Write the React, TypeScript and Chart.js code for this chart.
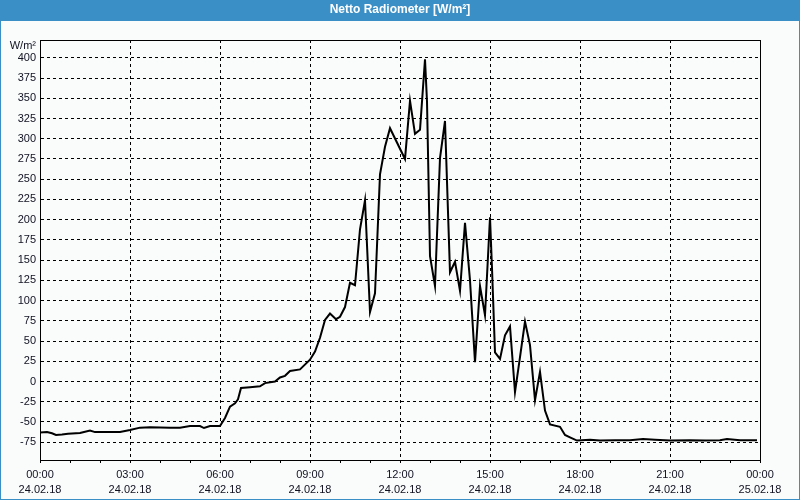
import React, { useEffect, useRef } from "react";
import { Chart, registerables } from "chart.js";

Chart.register(...registerables);

const TITLE = "Netto Radiometer [W/m²]";
const UNIT = "W/m²";

// time of each sample in minutes after 24.02.18 00:00
const sampleMinutes = [
  0, 14, 24, 32, 44, 56, 80, 100, 110, 140, 160, 180, 200, 220, 260, 280, 300, 320, 328, 340,
  360, 370, 380, 390, 396, 402, 420, 440, 450, 470, 480, 490, 500, 520, 540, 550, 560, 570, 580, 592,
  600, 610, 620, 630, 640, 650, 660, 670, 680, 690, 700, 730, 740, 750, 760, 770, 774, 780, 790, 800,
  810, 820, 830, 840, 850, 860, 870, 880, 890, 900, 904, 910, 920, 930, 940, 950, 960, 970, 980, 990,
  1000, 1010, 1020, 1040, 1050, 1060, 1074, 1100, 1120, 1150, 1180, 1206, 1230, 1260, 1300, 1330, 1360, 1374, 1400, 1434,
];

// net radiation in W/m²
const netRadiation = [
  -63, -62.5, -64, -66, -65.5, -64.5, -63.5, -60.5, -62.5, -62.5, -62.5, -60, -57, -56.5, -57, -57, -55, -55, -57.5, -55,
  -55, -45, -31, -27, -22, -8, -7, -6, -2, 0, 5, 7, 13, 15, 27, 37, 54, 76, 84, 77,
  80, 92, 122, 119, 188, 224, 86, 109, 256, 290, 313, 275, 347, 306, 311, 398, 346, 155, 118, 276,
  322, 135, 148, 112, 196, 125, 24, 118, 82, 203, 140, 36, 28, 57, 68, -13, 30, 74, 45, -23,
  12, -36, -53, -56, -66, -69, -73, -72, -73, -72.5, -72.5, -71, -72, -73, -72.5, -73, -72.5, -71, -72.5, -72.5,
];

const xTickMinutes = [0, 180, 360, 540, 720, 900, 1080, 1260, 1440];
const xTimeLabels = ["00:00", "03:00", "06:00", "09:00", "12:00", "15:00", "18:00", "21:00", "00:00"];
const xDateLabels = ["24.02.18", "24.02.18", "24.02.18", "24.02.18", "24.02.18", "24.02.18", "24.02.18", "24.02.18", "25.02.18"];

const Y_MIN = -97;
const Y_MAX = 422;
const Y_STEP = 25;

const BLUE = "#3b8fc7";
const BG = "#f9fcfa";
const TEXT = "#111122";
const FONT = "'Liberation Sans', Arial, sans-serif";

const framePlugin = {
  id: "frame",
  beforeDraw(chart: any) {
    const { ctx, width, height } = chart;
    ctx.save();
    ctx.fillStyle = BG;
    ctx.fillRect(0, 0, width, height);
    ctx.fillStyle = BLUE;
    ctx.fillRect(0, 0, width, 21);
    ctx.fillRect(0, 0, 1, height);
    ctx.fillRect(width - 1, 0, 1, height);
    ctx.fillRect(0, height - 1, width, 1);
    ctx.restore();
  },
  afterDraw(chart: any) {
    const { ctx, chartArea } = chart;
    ctx.save();
    ctx.strokeStyle = "#000";
    ctx.lineWidth = 1;
    ctx.setLineDash([]);
    ctx.strokeRect(chartArea.left + 0.5, chartArea.top + 0.5, chartArea.right - chartArea.left, chartArea.bottom - chartArea.top);
    ctx.fillStyle = TEXT;
    ctx.font = `11px ${FONT}`;
    ctx.textAlign = "right";
    ctx.textBaseline = "middle";
    ctx.fillText(UNIT, 36, 46);
    ctx.restore();
  },
};

export default function App() {
  const canvasRef = useRef<HTMLCanvasElement | null>(null);

  useEffect(() => {
    document.body.style.margin = "0";
    const canvas = canvasRef.current;
    if (!canvas) return;
    const points = sampleMinutes.map((m, i) => ({ x: m, y: netRadiation[i] }));
    const chart = new Chart(canvas, {
      type: "line",
      data: {
        datasets: [
          {
            label: TITLE,
            data: points,
            borderColor: "#000",
            borderWidth: 2,
            pointRadius: 0,
            tension: 0,
            fill: false,
          },
        ],
      },
      options: {
        responsive: false,
        animation: false,
        devicePixelRatio: 1,
        layout: { padding: { left: 0, right: 0, top: 0, bottom: 0 } },
        plugins: {
          legend: { display: false },
          tooltip: { enabled: false },
          title: {
            display: true,
            text: TITLE,
            color: "#ffffff",
            font: { family: FONT, size: 12, weight: "bold", lineHeight: "14px" },
            padding: { top: 3, bottom: 23 },
          },
        },
        scales: {
          x: {
            type: "linear",
            min: 0,
            max: 1440,
            afterFit(scale: any) {
              scale.height = 40;
              scale.paddingRight = 40;
              scale.paddingLeft = 0;
            },
            ticks: {
              stepSize: 60,
              autoSkip: false,
              maxRotation: 0,
              minRotation: 0,
              padding: 4.5,
              color: TEXT,
              font: { family: FONT, size: 11, lineHeight: "15px" },
              callback(value: any) {
                const idx = xTickMinutes.indexOf(Number(value));
                return idx >= 0 ? [xTimeLabels[idx], xDateLabels[idx]] : "";
              },
            },
            grid: {
              color: (ctx: any) => (ctx.tick && xTickMinutes.includes(ctx.tick.value) ? "#000" : "rgba(0,0,0,0)"),
              tickColor: "#000",
              tickLength: 3,
              lineWidth: 1,
            },
            border: { display: true, color: "#000", width: 1, dash: [3, 3] },
          },
          y: {
            type: "linear",
            min: Y_MIN,
            max: Y_MAX,
            afterFit(scale: any) {
              scale.width = 40;
            },
            ticks: {
              stepSize: Y_STEP,
              includeBounds: false,
              autoSkip: false,
              padding: 4,
              color: TEXT,
              font: { family: FONT, size: 11 },
            },
            grid: {
              color: "#000",
              drawTicks: false,
              lineWidth: 1,
            },
            border: { display: true, color: "#000", width: 1, dash: [3, 3] },
          },
        },
      },
      plugins: [framePlugin],
    });
    return () => chart.destroy();
  }, []);

  return (
    <div style={{ position: "absolute", left: 0, top: 0, width: 800, height: 500 }}>
      <canvas ref={canvasRef} width={800} height={500} />
    </div>
  );
}
